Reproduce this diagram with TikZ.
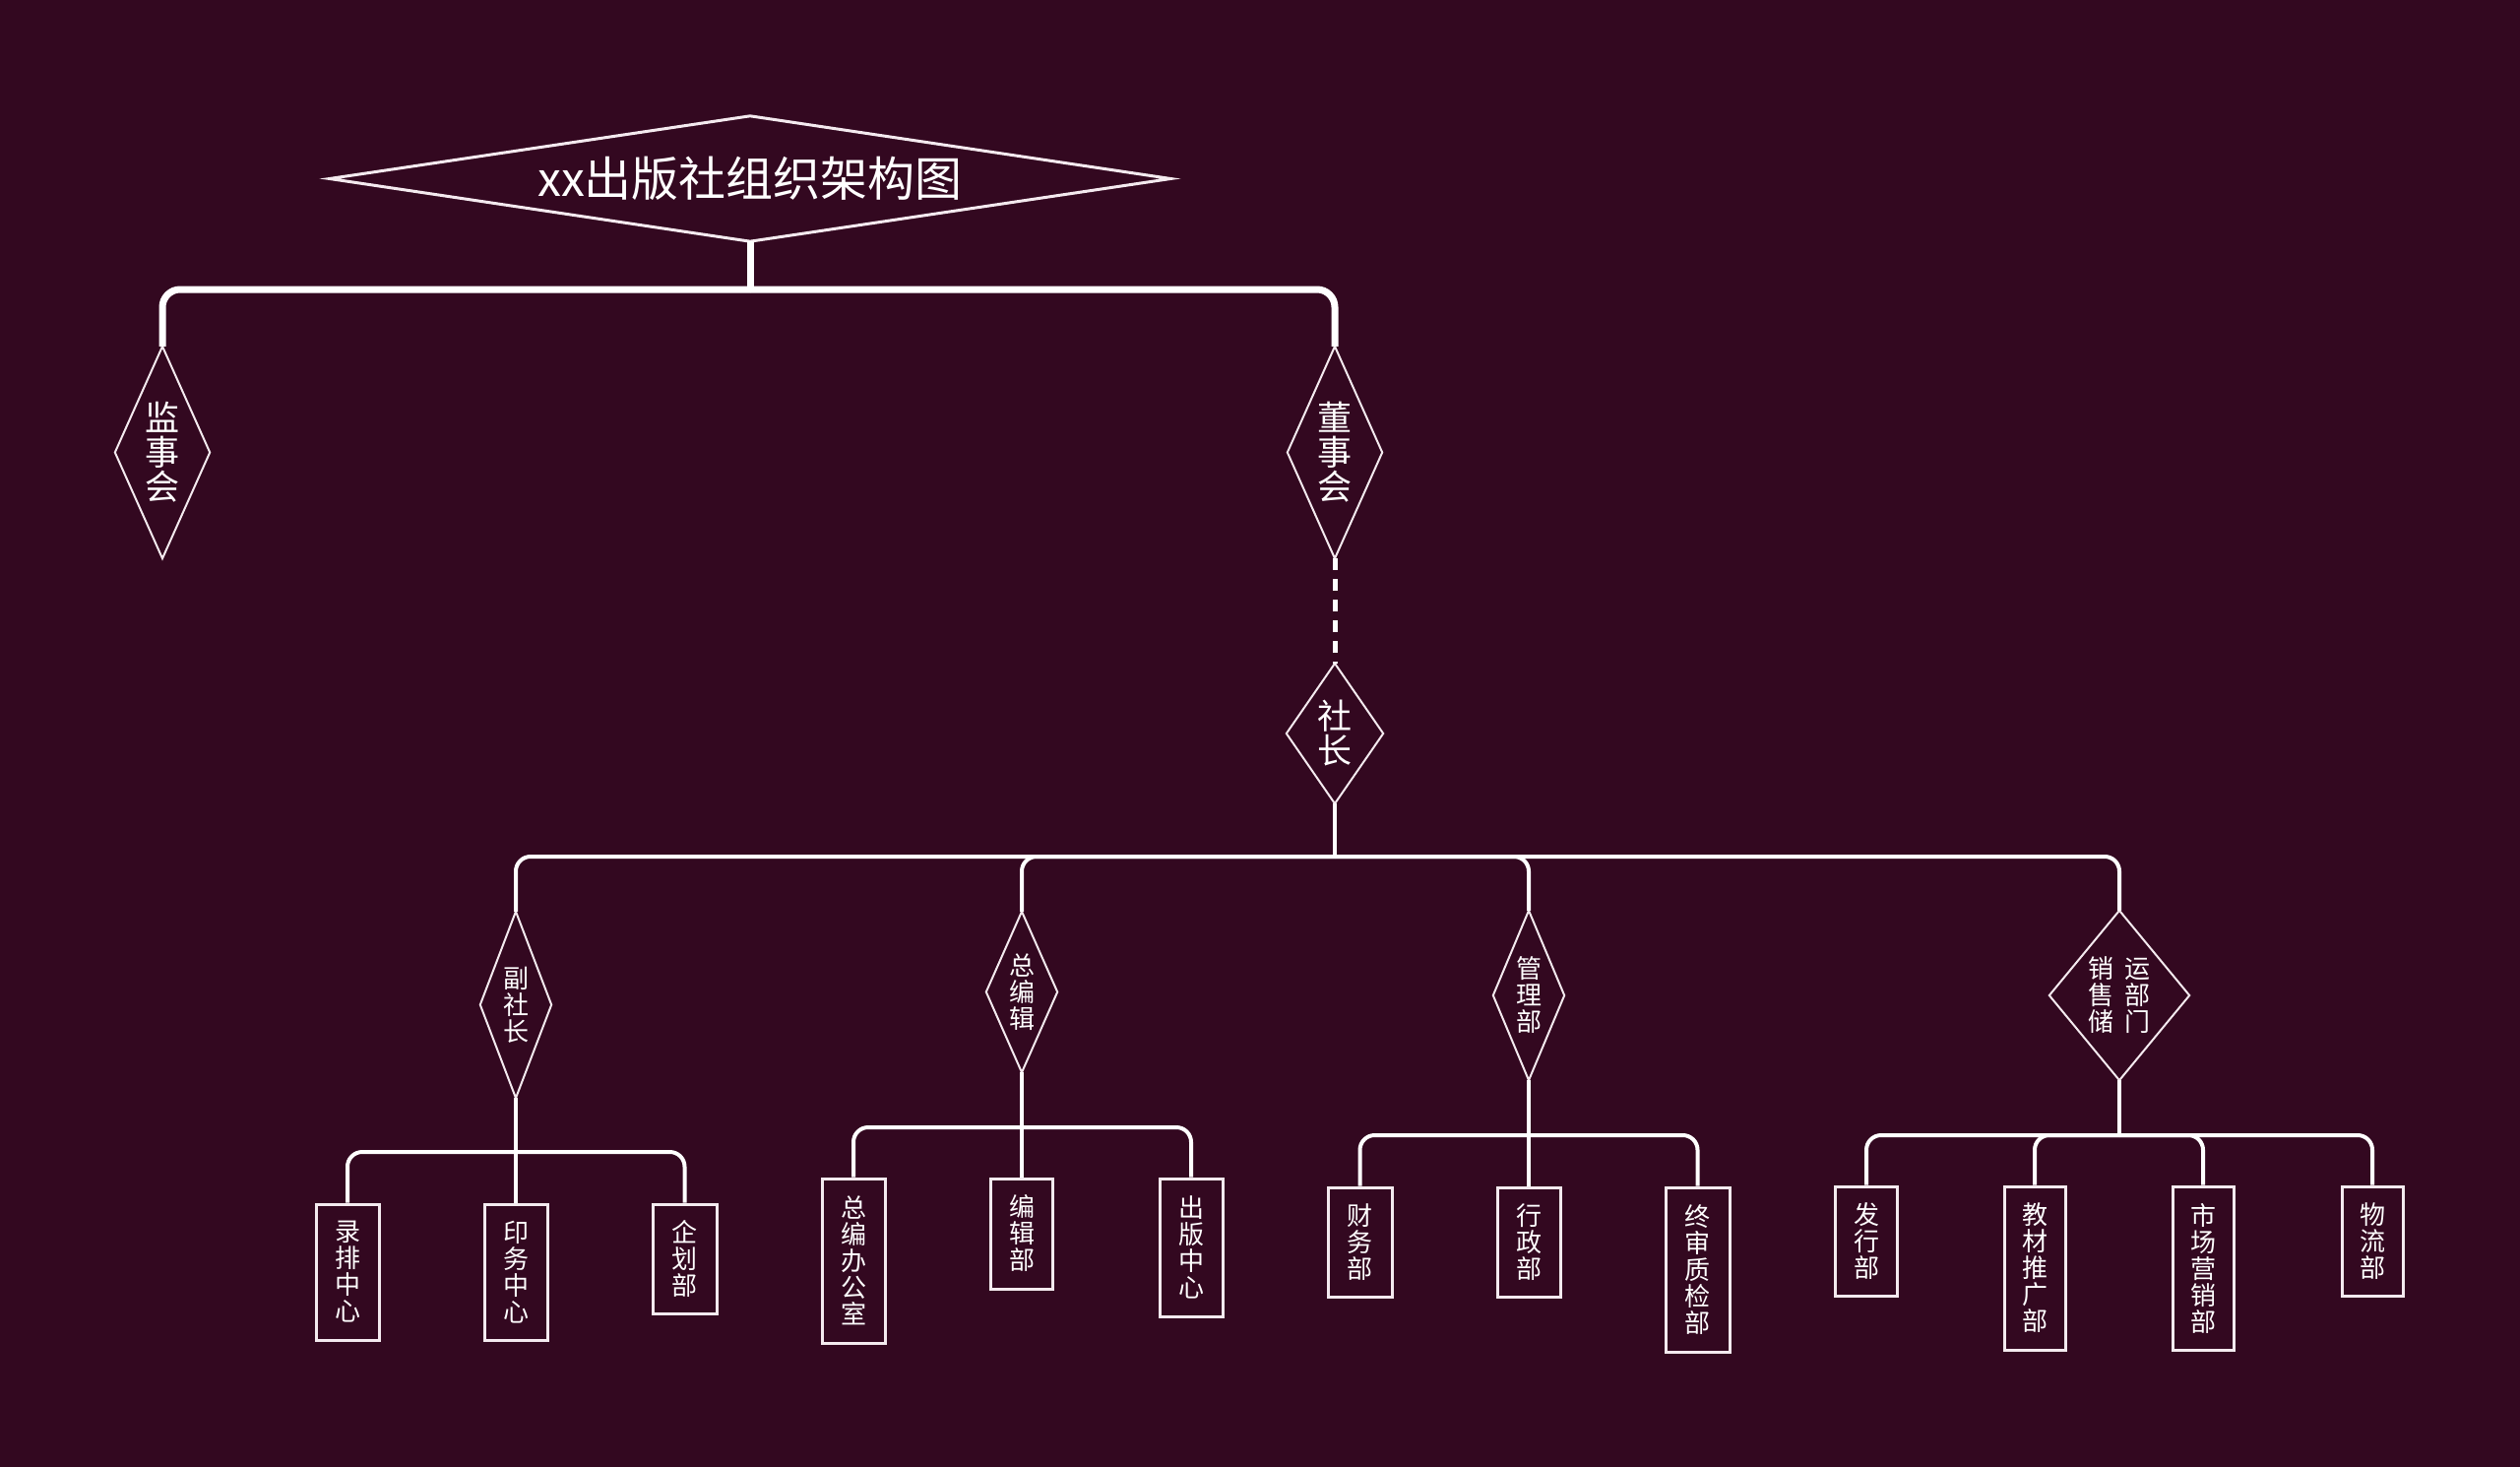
\documentclass[tikz,border=0pt]{standalone}
\usepackage{fontspec}
\newfontfamily\cjk{Noto Sans CJK SC}
\definecolor{bg}{HTML}{330820}
\definecolor{bx}{HTML}{F4EAEF}
\begin{document}
\begin{tikzpicture}[x=1pt,y=-1pt,
  every node/.style={text=white, align=center, inner sep=0pt},
  dnode/.style 2 args={minimum width=#1, minimum height=#2},
  boxnode/.style 2 args={draw=bx, line width=3pt, minimum width=#1, minimum height=#2},
  dia/.style={draw=bx, line width=2pt, line join=miter},
  diathick/.style={draw=bx, line width=3pt, line join=miter},
  tA/.style={font=\cjk\fontsize{48}{50}\selectfont},
  tB/.style={font=\cjk\fontsize{35}{35}\selectfont},
  tC/.style={font=\cjk\fontsize{26}{27}\selectfont},
  lvlA/.style={draw=white, line width=7pt, rounded corners=18pt},
  lvlB/.style={draw=white, line width=4pt, rounded corners=15pt},
  stubB/.style={draw=white, line width=4pt},
  dashlink/.style={draw=white, line width=5pt, dash pattern=on 12pt off 9pt}
]
\fill[bg] (0,0) rectangle (2560,1490);
\useasboundingbox (0,0) rectangle (2560,1490);

% bus levels
\coordinate (b0) at (0,294);
\coordinate (b1) at (0,870);
\coordinate (b2a) at (0,1170);
\coordinate (b2b) at (0,1145);
\coordinate (b2c) at (0,1153);
\coordinate (b2d) at (0,1153);

% diamond nodes
\node[dnode={854}{127}, tA] (title) at (762,181.5) {xx出版社组织架构图};
\node[dnode={96}{215}, tB] (jsh) at (165,459.5) {监\\事\\会};
\node[dnode={96}{215}, tB] (dsh) at (1356,459.5) {董\\事\\会};
\node[dnode={98}{142}, tB] (sz) at (1356,745) {社\\长};
\node[dnode={72}{189}, tC] (fsz) at (524,1020.5) {副\\社\\长};
\node[dnode={72}{163}, tC] (zbj) at (1038,1007.5) {总\\编\\辑};
\node[dnode={72}{172}, tC] (glb) at (1553,1011) {管\\理\\部};
\node[dnode={142}{172}, tC] (xs) at (2153,1011) {销\hspace{11pt}运\\售\hspace{11pt}部\\储\hspace{11pt}门};

\draw[diathick] (title.north) -- (title.east) -- (title.south) -- (title.west) -- cycle;
\foreach \n in {jsh,dsh,sz,fsz,zbj,glb,xs}
  \draw[dia] (\n.north) -- (\n.east) -- (\n.south) -- (\n.west) -- cycle;

% boxes
\node[boxnode={64}{138}, tC] (lp) at (353,1292) {录\\排\\中\\心};
\node[boxnode={64}{138}, tC] (yw) at (524,1292) {印\\务\\中\\心};
\node[boxnode={65}{111}, tC] (qh) at (695.5,1278.5) {企\\划\\部};
\node[boxnode={64}{167}, tC] (zb) at (867,1280.5) {总\\编\\办\\公\\室};
\node[boxnode={63}{112}, tC] (bj) at (1038,1253) {编\\辑\\部};
\node[boxnode={64}{140}, tC] (cb) at (1210,1267) {出\\版\\中\\心};
\node[boxnode={65}{111}, tC] (cw) at (1381.5,1261.5) {财\\务\\部};
\node[boxnode={64}{111}, tC] (xz) at (1553,1261.5) {行\\政\\部};
\node[boxnode={65}{167}, tC] (zs) at (1724.5,1289.5) {终\\审\\质\\检\\部};
\node[boxnode={63}{111}, tC] (fx) at (1896,1260.5) {发\\行\\部};
\node[boxnode={62}{166}, tC] (jc) at (2067,1288) {教\\材\\推\\广\\部};
\node[boxnode={62}{166}, tC] (sc) at (2238,1288) {市\\场\\营\\销\\部};
\node[boxnode={62}{111}, tC] (wl) at (2410,1260.5) {物\\流\\部};

% level 0
\draw[lvlA] (title.south) -- (title.south |- b0);
\draw[lvlA] (title.south |- b0) -- (jsh.north |- b0) -- (jsh.north);
\draw[lvlA] (title.south |- b0) -- (dsh.north |- b0) -- (dsh.north);
\draw[dashlink] (dsh.south) -- (sz.north);

% level 1
\draw[stubB] (sz.south) -- (sz.south |- b1);
\foreach \c in {fsz,zbj,glb,xs}
  \draw[lvlB] (sz.south |- b1) -- (\c.north |- b1) -- (\c.north);

% level 2: 副社长
\draw[stubB] (fsz.south) -- (yw.north);
\foreach \c in {lp,qh}
  \draw[lvlB] (fsz.south |- b2a) -- (\c.north |- b2a) -- (\c.north);
% 总编辑
\draw[stubB] (zbj.south) -- (bj.north);
\foreach \c in {zb,cb}
  \draw[lvlB] (zbj.south |- b2b) -- (\c.north |- b2b) -- (\c.north);
% 管理部
\draw[stubB] (glb.south) -- (xz.north);
\foreach \c in {cw,zs}
  \draw[lvlB] (glb.south |- b2c) -- (\c.north |- b2c) -- (\c.north);
% 销售储运部门
\draw[stubB] (xs.south) -- (xs.south |- b2d);
\foreach \c in {fx,jc,sc,wl}
  \draw[lvlB] (xs.south |- b2d) -- (\c.north |- b2d) -- (\c.north);
\end{tikzpicture}
\end{document}
